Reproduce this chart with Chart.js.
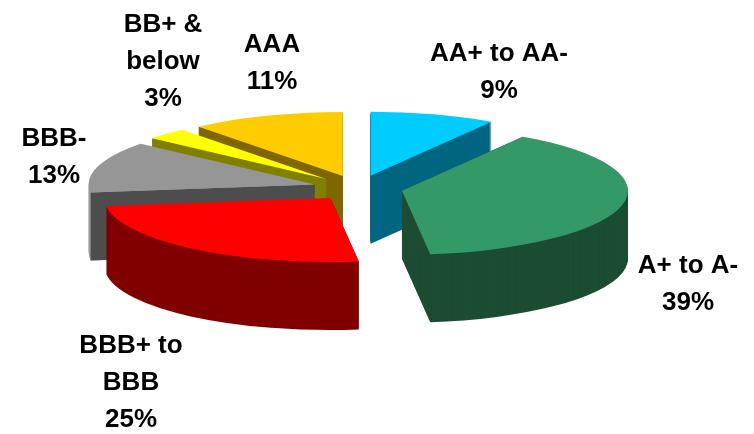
<!DOCTYPE html>
<html>
<head>
<meta charset="utf-8">
<title>Rating breakdown</title>
<script src="https://cdn.jsdelivr.net/npm/chart.js@4"></script>
<style>
  html, body { margin: 0; padding: 0; background: #fff; }
  canvas { display: block; }
</style>
</head>
<body>
<canvas id="ratings" width="754" height="434"></canvas>
<script>
const categories = [
    ['AA+ to AA-'],
    ['A+ to A-'],
    ['BBB+ to', 'BBB'],
    ['BBB-'],
    ['BB+ &', 'below'],
    ['AAA']
];
const shares = [9, 39, 25, 13, 3, 11];

const topColors  = ['#00CCFF', '#339966', '#FF0000', '#969696', '#FFFF00', '#FFCC00'];
const wallColors = ['#006680', '#1C4D33', '#800000', '#4D4D4D', '#808000', '#806600'];
const rimColors  = ['#006680', '#1C4D33', '#800000', '#A0A0A0', '#808000', '#806600'];

// back slices go first so the front ones can cover their walls
const paintOrder = [0, 5, 4, 3, 1, 2];

// x centre and first baseline of each label block
const labelSpots = [[499, 61], [688, 273], [131, 353], [54, 146], [163, 32], [272, 52]];
const labelLeading = 37;

const pieCentreX = 358;
const pieCentreY = 188;
const tilt = 64 / 226;
const pieDepth = 68;
const explode = 45;

function withColor(arc, color, fn) {
    const saved = arc.options;
    arc.options = Object.create(saved);
    arc.options.backgroundColor = color;
    fn();
    arc.options = saved;
}

// flat face under the first radius of a slice, seen where a slice opens towards the viewer
function drawCutFace(ctx, arc, color) {
    const ex = arc.x + Math.cos(arc.startAngle) * arc.outerRadius;
    const ey = arc.y + Math.sin(arc.startAngle) * arc.outerRadius;
    const drop = pieDepth / tilt;
    ctx.fillStyle = color;
    ctx.beginPath();
    ctx.moveTo(arc.x, arc.y);
    ctx.lineTo(ex, ey);
    ctx.lineTo(ex, ey + drop);
    ctx.lineTo(arc.x, arc.y + drop);
    ctx.closePath();
    ctx.fill();
}

const tiltedPie = {
    id: 'tiltedPie',
    beforeDatasetsDraw(chart) {
        const ctx = chart.ctx;
        const arcs = chart.getDatasetMeta(0).data;
        ctx.save();
        ctx.translate(pieCentreX, pieCentreY);
        ctx.scale(1, tilt);
        ctx.translate(-arcs[0].x, -arcs[0].y);
        paintOrder.forEach(i => {
            const arc = arcs[i];
            const half = (arc.startAngle + arc.endAngle) / 2;
            ctx.save();
            ctx.translate(Math.cos(half) * explode, Math.sin(half) * explode);
            withColor(arc, rimColors[i], () => {
                for (let d = pieDepth; d > 0; d--) {
                    ctx.save();
                    ctx.translate(0, d / tilt);
                    arc.draw(ctx);
                    ctx.restore();
                }
            });
            drawCutFace(ctx, arc, wallColors[i]);
            arc.draw(ctx);
            ctx.restore();
        });
        ctx.restore();
        return false;
    }
};

const sliceLabels = {
    id: 'sliceLabels',
    afterDraw(chart) {
        const ctx = chart.ctx;
        ctx.save();
        ctx.font = 'bold 26px "Liberation Sans", Arial, sans-serif';
        ctx.fillStyle = '#000';
        ctx.textAlign = 'center';
        ctx.textBaseline = 'alphabetic';
        categories.forEach((lines, i) => {
            const [x, y] = labelSpots[i];
            lines.concat(shares[i] + '%').forEach((line, n) => {
                ctx.fillText(line, x, y + n * labelLeading);
            });
        });
        ctx.restore();
    }
};

new Chart(document.getElementById('ratings').getContext('2d'), {
    type: 'pie',
    data: {
        labels: categories.map(c => c.join(' ')),
        datasets: [{
            data: shares,
            backgroundColor: topColors,
            borderWidth: 0,
            radius: 226,
            clip: false
        }]
    },
    options: {
        responsive: false,
        animation: false,
        events: [],
        layout: { padding: 0 },
        plugins: { legend: { display: false }, tooltip: { enabled: false } }
    },
    plugins: [tiltedPie, sliceLabels]
});
</script>
</body>
</html>
